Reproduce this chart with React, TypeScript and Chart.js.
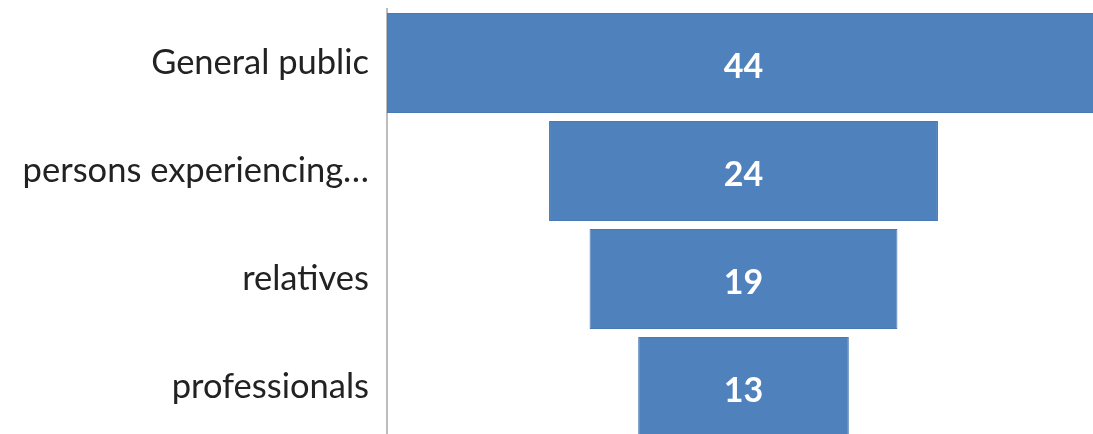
import React, { useEffect, useRef } from "react";
import { Chart, registerables } from "chart.js";

Chart.register(...registerables);

const categories = ["General public", "persons experiencing…", "relatives", "professionals"];
const values = [44, 24, 19, 13];

const FONT = "Lato, 'Open Sans', sans-serif";

const valueLabels = {
  id: "valueLabels",
  afterDatasetsDraw(chart: any) {
    const ctx = chart.ctx;
    const meta = chart.getDatasetMeta(0);
    ctx.save();
    ctx.fillStyle = "#ffffff";
    ctx.font = `bold 34px ${FONT}`;
    ctx.textAlign = "center";
    ctx.textBaseline = "middle";
    meta.data.forEach((bar: any, i: number) => {
      const cx = (bar.x + bar.base) / 2;
      ctx.fillText(String(values[i]), cx, bar.y + 4);
    });
    ctx.restore();
  },
};

export default function App() {
  const ref = useRef<HTMLCanvasElement | null>(null);
  useEffect(() => {
    if (!ref.current) return;
    const maxV = Math.max(...values);
    const chart = new Chart(ref.current, {
      type: "bar",
      data: {
        labels: categories,
        datasets: [
          {
            data: values.map((v) => [(maxV - v) / 2, (maxV + v) / 2]) as any,
            backgroundColor: "#4f81bd",
            borderColor: "#4a7ab5",
            borderWidth: 1,
            borderSkipped: false,
            categoryPercentage: 1,
            barPercentage: 0.926,
          },
        ],
      },
      options: {
        indexAxis: "y",
        animation: false,
        responsive: false,
        devicePixelRatio: 1,
        layout: { padding: { top: 9, right: 0, bottom: 0, left: 0 } },
        plugins: { legend: { display: false }, tooltip: { enabled: false } },
        scales: {
          x: { display: false, min: 0, max: maxV },
          y: {
            afterFit(scale: any) {
              scale.width = 387;
              scale.paddingTop = 0;
              scale.paddingBottom = 0;
            },
            grid: { display: false, drawTicks: false },
            border: { display: true, color: "#bdbdbd", width: 2 },
            ticks: {
              padding: 18,
              color: "#222222",
              font: { family: FONT, size: 34.5 },
            },
          },
        },
      },
      plugins: [valueLabels],
    });
    return () => chart.destroy();
  }, []);
  return (
    <div
      style={{
        position: "fixed",
        left: 0,
        top: 0,
        width: 1093,
        height: 434,
        overflow: "hidden",
        background: "#ffffff",
      }}
    >
      <canvas ref={ref} width={1100} height={441} style={{ display: "block" }} />
    </div>
  );
}
